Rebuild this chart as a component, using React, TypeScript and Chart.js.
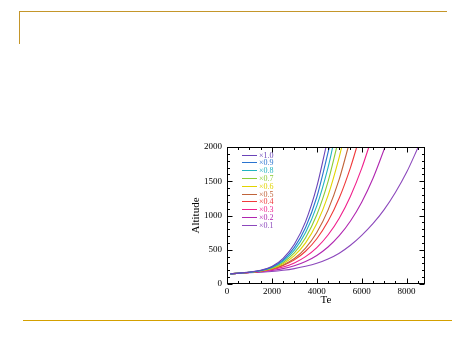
import React, { useEffect, useRef } from "react";
import { Chart, registerables } from "chart.js";

Chart.register(...registerables);

// ---- data ----
const seriesLabels = ["×1.0", "×0.9", "×0.8", "×0.7", "×0.6", "×0.5", "×0.4", "×0.3", "×0.2", "×0.1"];
const seriesColors = ["#6a44b8", "#2a74d0", "#22b4c0", "#8ccc34", "#e2d400", "#c0643a", "#f03a3a", "#f0208c", "#b026b0", "#8c48bc"];

const te10 = [150, 1000, 1500, 2000, 2500, 3000, 3500, 4000, 4410];
const alt10 = [148, 173, 200, 255, 375, 580, 910, 1420, 2000];
const te09 = [150, 1000, 1500, 2000, 2500, 3000, 3500, 4000, 4560];
const alt09 = [148, 172, 197, 247, 352, 535, 825, 1270, 2000];
const te08 = [150, 1000, 1500, 2000, 2500, 3000, 3500, 4000, 4500, 4710];
const alt08 = [148, 172, 195, 240, 335, 495, 752, 1140, 1700, 2000];
const te07 = [150, 1000, 1500, 2000, 2500, 3000, 3500, 4000, 4500, 4890];
const alt07 = [148, 171, 193, 234, 315, 455, 676, 1010, 1495, 2000];
const te06 = [150, 1000, 1500, 2000, 2500, 3000, 3500, 4000, 4500, 5000, 5110];
const alt06 = [148, 171, 190, 227, 296, 414, 600, 883, 1290, 1852, 2000];
const te05 = [150, 1000, 1500, 2000, 2500, 3000, 3500, 4000, 4500, 5000, 5400];
const alt05 = [148, 170, 188, 220, 277, 372, 524, 751, 1078, 1530, 2000];
const te04 = [150, 1000, 1500, 2000, 2500, 3000, 3500, 4000, 4500, 5000, 5500, 5780];
const alt04 = [148, 170, 188, 218, 270, 352, 478, 660, 915, 1255, 1700, 2000];
const te03 = [150, 1000, 1500, 2000, 2500, 3000, 3500, 4000, 4500, 5000, 5500, 6000, 6320];
const alt03 = [148, 169, 184, 208, 247, 308, 400, 532, 715, 960, 1282, 1688, 2000];
const te02 = [150, 1000, 1500, 2000, 2500, 3000, 3500, 4000, 4500, 5000, 5500, 6000, 6500, 7040];
const alt02 = [148, 168, 180, 197, 224, 266, 328, 417, 540, 705, 920, 1195, 1540, 2000];
const te01 = [150, 1000, 1500, 2000, 2500, 3000, 3500, 4000, 4500, 5000, 5500, 6000, 6500, 7000, 7500, 8000, 8520];
const alt01 = [148, 165, 172, 182, 200, 225, 258, 302, 365, 450, 565, 710, 880, 1085, 1335, 1630, 2000];

const teSeries = [te10, te09, te08, te07, te06, te05, te04, te03, te02, te01];
const altSeries = [alt10, alt09, alt08, alt07, alt06, alt05, alt04, alt03, alt02, alt01];

const xTickValues = [0, 2000, 4000, 6000, 8000];
const yTickValues = [0, 500, 1000, 1500, 2000];
const xMin = 0;
const xMax = 8820;
const yMin = 0;
const yMax = 2000;
const xMinorStep = 500;
const yMinorStep = 100;
const xTitle = "Te";
const yTitle = "Altitude";

const FONT = "'Liberation Serif', 'DejaVu Serif', serif";

const framePlugin = {
  id: "idlFrame",
  afterDraw(chart: any) {
    const ctx = chart.ctx;
    const { left, right, top, bottom } = chart.chartArea;
    const xs = chart.scales.x;
    const ys = chart.scales.y;
    ctx.save();
    ctx.strokeStyle = "#000";
    ctx.lineWidth = 1;
    const L = Math.round(left) + 0.5;
    const R = Math.round(right) - 0.5;
    const T = Math.round(top) + 0.5;
    const B = Math.round(bottom) - 0.5;
    ctx.strokeRect(L, T, R - L, B - T);
    ctx.beginPath();
    for (let v = xMin; v <= xMax; v += xMinorStep) {
      const px = Math.round(xs.getPixelForValue(v)) + 0.5;
      const len = v % 2000 === 0 ? 5 : 2.5;
      ctx.moveTo(px, B);
      ctx.lineTo(px, B - len);
      ctx.moveTo(px, T);
      ctx.lineTo(px, T + len);
    }
    for (let v = yMin; v <= yMax; v += yMinorStep) {
      const py = Math.round(ys.getPixelForValue(v)) + 0.5;
      const len = v % 500 === 0 ? 5 : 2.5;
      ctx.moveTo(L, py);
      ctx.lineTo(L + len, py);
      ctx.moveTo(R, py);
      ctx.lineTo(R - len, py);
    }
    ctx.stroke();
    ctx.restore();
  },
};

const legendPlugin = {
  id: "innerLegend",
  afterDatasetsDraw(chart: any) {
    const ctx = chart.ctx;
    const { left, top } = chart.chartArea;
    ctx.save();
    ctx.font = `8px ${FONT}`;
    ctx.textBaseline = "middle";
    ctx.textAlign = "left";
    chart.data.datasets.forEach((ds: any, i: number) => {
      const y = Math.round(top + 7.5 + i * 7.8) + 0.5;
      ctx.strokeStyle = ds.borderColor;
      ctx.lineWidth = 1;
      ctx.beginPath();
      ctx.moveTo(left + 15, y);
      ctx.lineTo(left + 30, y);
      ctx.stroke();
      ctx.fillStyle = ds.borderColor;
      ctx.fillText(ds.label, left + 32, y + 0.5);
    });
    ctx.restore();
  },
};

export default function App() {
  const canvasRef = useRef<HTMLCanvasElement | null>(null);

  useEffect(() => {
    const canvas = canvasRef.current;
    if (!canvas) return;
    const datasets = seriesLabels.map((label, i) => ({
      label,
      data: teSeries[i].map((t, j) => ({ x: t, y: altSeries[i][j] })),
      borderColor: seriesColors[i],
      backgroundColor: seriesColors[i],
      borderWidth: 1.1,
      pointRadius: 0,
      fill: false,
      cubicInterpolationMode: "monotone" as const,
    }));
    const chart = new Chart(canvas, {
      type: "line",
      data: { datasets },
      options: {
        animation: false,
        responsive: false,
        maintainAspectRatio: false,
        layout: { padding: { left: 189, right: 50, top: 147, bottom: 50 } },
        plugins: {
          legend: { display: false },
          tooltip: { enabled: false },
        },
        scales: {
          x: {
            type: "linear",
            min: xMin,
            max: xMax,
            grid: { display: false, drawTicks: false, tickLength: 0 },
            border: { display: false },
            afterBuildTicks: (s: any) => {
              s.ticks = xTickValues.map((v) => ({ value: v }));
            },
            afterFit: (s: any) => {
              s.height = 22;
            },
            ticks: {
              color: "#000",
              font: { family: FONT, size: 9 },
              padding: 2,
              maxRotation: 0,
              autoSkip: false,
              callback: (v: any) => String(v),
            },
            title: {
              display: true,
              text: xTitle,
              color: "#000",
              font: { family: FONT, size: 11, lineHeight: 1 },
              padding: { top: 0, bottom: 0 },
            },
          },
          y: {
            type: "linear",
            min: yMin,
            max: yMax,
            grid: { display: false, drawTicks: false, tickLength: 0 },
            border: { display: false },
            afterBuildTicks: (s: any) => {
              s.ticks = yTickValues.map((v) => ({ value: v }));
            },
            afterFit: (s: any) => {
              s.width = 38;
            },
            ticks: {
              color: "#000",
              font: { family: FONT, size: 9 },
              padding: 5,
              autoSkip: false,
              callback: (v: any) => String(v),
            },
            title: {
              display: true,
              text: yTitle,
              color: "#000",
              font: { family: FONT, size: 11, lineHeight: 1 },
              padding: { top: 2, bottom: 0 },
            },
          },
        },
      },
      plugins: [legendPlugin, framePlugin],
    });
    return () => chart.destroy();
  }, []);

  return (
    <div style={{ position: "absolute", left: 0, top: 0, width: 475, height: 356, background: "#fff" }}>
      <div style={{ position: "absolute", left: 19, top: 11, width: 428, height: 1, background: "#c4962a" }} />
      <div style={{ position: "absolute", left: 19, top: 11, width: 1, height: 33, background: "#c4962a" }} />
      <div style={{ position: "absolute", left: 23, top: 320, width: 429, height: 1, background: "#d4a000" }} />
      <canvas ref={canvasRef} width={475} height={356} style={{ position: "absolute", left: 0, top: 0, display: "block" }} />
    </div>
  );
}
